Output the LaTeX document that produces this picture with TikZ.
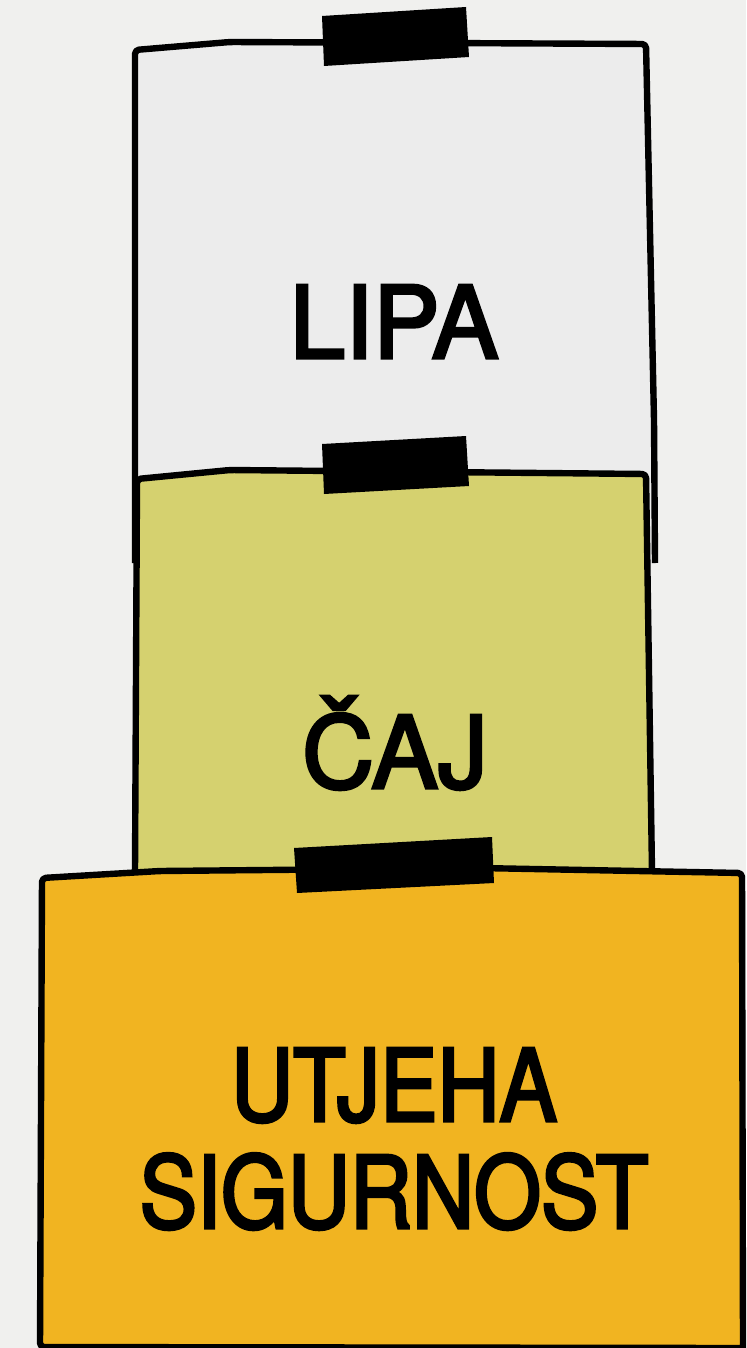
\documentclass[tikz,border=0pt]{standalone}
\usepackage{fontspec}
\setmainfont{TeX Gyre Heros}
\newfontface\medheros[FakeBold=3]{TeX Gyre Heros}
\newfontface\narrowheros[FakeStretch=0.86,FakeBold=3]{TeX Gyre Heros}
\definecolor{paper}{HTML}{F0F0EE}
\definecolor{leaf}{HTML}{ECECEC}
\definecolor{tea}{HTML}{D5D16F}
\definecolor{honey}{HTML}{F1B421}
\tikzset{
  box/.style={line width=3.2pt,rounded corners=2pt,line join=round},
  tape/.style={fill=black},
  word/.style={font=\fontsize{50}{53.5}\medheros,inner sep=0pt,align=center}
}
\begin{document}
\begin{tikzpicture}[x=0.5pt,y=-0.5pt]
    \useasboundingbox (0,0) rectangle (746,1348);
    \fill[paper] (0,0) rectangle (746,1348);

    \coordinate (L1) at (135, 563);
    \coordinate (L2) at (135, 50);
    \coordinate (L3) at (230, 42);
    \coordinate (L4) at (646, 44);
    \coordinate (L5) at (654, 420);
    \coordinate (L6) at (655, 563);

    \coordinate (C1) at (135, 872);
    \coordinate (C2) at (137, 479);
    \coordinate (C3) at (230, 470);
    \coordinate (C4) at (646, 474);
    \coordinate (C5) at (652, 872);

    \coordinate (U1) at (40, 1347);
    \coordinate (U2) at (42, 878);
    \coordinate (U3) at (160, 871);
    \coordinate (U4) at (480, 868);
    \coordinate (U5) at (742, 873);
    \coordinate (U6) at (743, 1348);

    \fill[leaf] (L1) -- (L2) -- (L3) -- (L4) -- (L5) -- (L6) -- cycle;
    \draw[box] (L1) -- (L2) -- (L3) -- (L4) -- (L5) -- (L6);

    \fill[tea] (C1) -- (C2) -- (C3) -- (C4) -- (C5) -- cycle;
    \draw[box] (C1) -- (C2) -- (C3) -- (C4) -- (C5);

    \fill[honey] (U1) -- (U2) -- (U3) -- (U4) -- (U5) -- (U6) -- cycle;
    \draw[box] (U6) -- (U5) -- (U4) -- (U3) -- (U2) -- (U1) -- (U6);

    \fill[tape] (322, 16) -- (466, 7) -- (469, 57) -- (324, 66) -- cycle;
    \fill[tape] (322, 444) -- (466, 436) -- (469, 486) -- (324, 494) -- cycle;
    \fill[tape] (294, 848) -- (492, 837) -- (494, 883) -- (297, 893) -- cycle;

    \node[word,anchor=base] (lipa) at (394, 358) {LIPA};
    \node[word,anchor=base] (caj) at (395, 788) {ČAJ};
    \node[word,anchor=base,font=\fontsize{50}{53.5}\narrowheros] (utjeha) at (394, 1228) {UTJEHA\\SIGURNOST};
\end{tikzpicture}
\end{document}
